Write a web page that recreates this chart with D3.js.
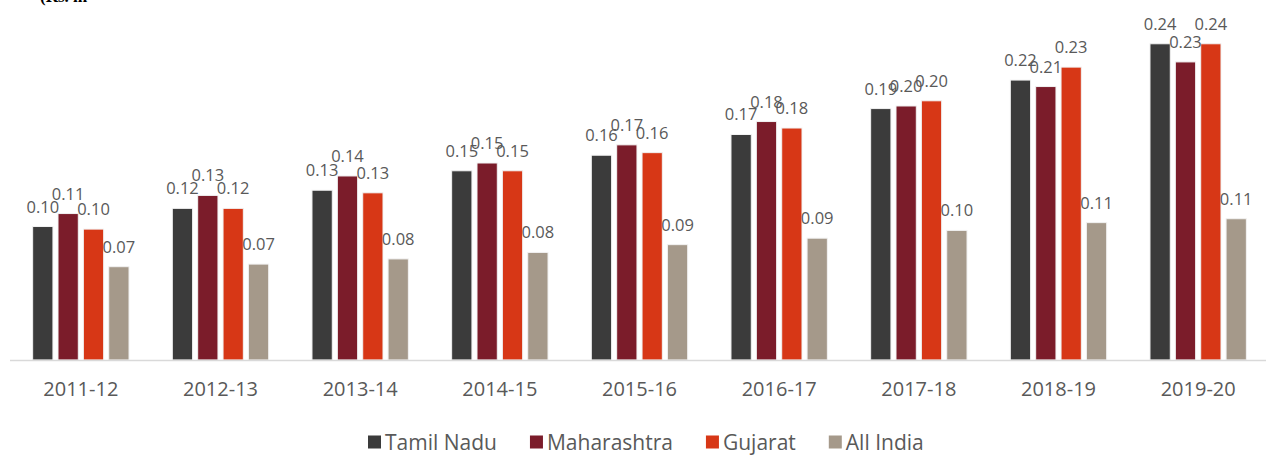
<!DOCTYPE html>
<html>
<head>
<meta charset="utf-8">
<script src="https://cdn.jsdelivr.net/npm/d3@7"></script>
<style>
  body { margin: 0; background: #fff; }
  svg { display: block; }
</style>
</head>
<body>
<svg id="chart" width="1270" height="455"></svg>
<script>
// chart data
var years = ['2011-12', '2012-13', '2013-14', '2014-15', '2015-16', '2016-17', '2017-18', '2018-19', '2019-20'];
var seriesNames = ['Tamil Nadu', 'Maharashtra', 'Gujarat', 'All India'];
var tamilNadu   = [0.103, 0.117, 0.131, 0.146, 0.158, 0.174, 0.194, 0.216, 0.244];
var maharashtra = [0.113, 0.127, 0.142, 0.152, 0.166, 0.184, 0.196, 0.211, 0.230];
var gujarat     = [0.101, 0.117, 0.129, 0.146, 0.160, 0.179, 0.200, 0.226, 0.244];
var allIndia    = [0.072, 0.074, 0.078, 0.083, 0.089, 0.094, 0.100, 0.106, 0.109];
var colors = ['#3b3b3b', '#7b1c2a', '#d73716', '#a5998a'];

var allSeries = [tamilNadu, maharashtra, gujarat, allIndia];
var rows = years.map(function(y, i){
	return { year: y, vals: allSeries.map(function(s, j){ return { name: seriesNames[j], v: s[i], k: j }; }) };
});

var svg = d3.select('#chart');
var baseY = 360;

var x0 = d3.scaleBand().domain(years).range([11, 1268]).paddingInner(0.31).paddingOuter(0.155);
var x1 = d3.scaleBand().domain(seriesNames).range([0, x0.bandwidth()]).paddingInner(0.2).paddingOuter(0);
var y = d3.scaleLinear().domain([0, 0.25]).range([baseY, baseY - 0.25 * 1296]);

// cropped unit caption at the very top
svg.append('text')
	.attr('x', 40).attr('y', 2)
	.style('font-family', '"Liberation Serif", serif')
	.style('font-weight', 'bold')
	.style('font-size', '17px')
	.attr('fill', '#000')
	.text('(Rs. in');

var groups = svg.selectAll('g.grp')
	.data(rows)
	.enter().append('g')
	.attr('class', 'grp')
	.attr('transform', function(d){ return 'translate(' + x0(d.year) + ',0)'; });

groups.selectAll('rect')
	.data(function(d){ return d.vals; })
	.enter().append('rect')
	.attr('x', function(d){ return x1(d.name); })
	.attr('y', function(d){ return y(d.v); })
	.attr('width', x1.bandwidth())
	.attr('height', function(d){ return y(0) - y(d.v); })
	.attr('fill', function(d){ return colors[d.k]; })
	.attr('stroke', '#f2f2f2')
	.attr('stroke-width', 1);

groups.selectAll('text.lbl')
	.data(function(d){ return d.vals; })
	.enter().append('text')
	.attr('class', 'lbl')
	.attr('x', function(d){ return x1(d.name) + x1.bandwidth() / 2; })
	.attr('y', function(d){ return y(d.v) - 14; })
	.attr('text-anchor', 'middle')
	.style('font-family', '"Open Sans", sans-serif')
	.style('font-size', '16.5px')
	.attr('fill', '#595959')
	.text(function(d){ return d.v.toFixed(2); });

// x axis
var xAxis = svg.append('g')
	.attr('transform', 'translate(0,' + baseY + ')')
	.call(d3.axisBottom(x0).tickSize(0).tickPadding(22).tickSizeOuter(0));
xAxis.select('.domain').attr('stroke', '#d9d9d9').attr('stroke-width', 1.5)
	.attr('d', 'M10,0.5H1266');
xAxis.selectAll('text')
	.style('font-family', '"Open Sans", sans-serif')
	.style('font-size', '20px')
	.attr('fill', '#595959');

// legend
var legend = svg.append('g').attr('transform', 'translate(0,442)');
var lx = 368;
seriesNames.forEach(function(name, i){
	var item = legend.append('g').attr('transform', 'translate(' + lx + ',0)');
	item.append('rect').attr('x', 0).attr('y', -6.5).attr('width', 13).attr('height', 13).attr('fill', colors[i]);
	var t = item.append('text')
		.attr('x', 17).attr('y', 7.5)
		.style('font-family', '"Open Sans", sans-serif')
		.style('font-size', '21px')
		.attr('fill', '#595959')
		.text(name);
	lx += 17 + t.node().getComputedTextLength() + 33;
});
</script>
</body>
</html>
